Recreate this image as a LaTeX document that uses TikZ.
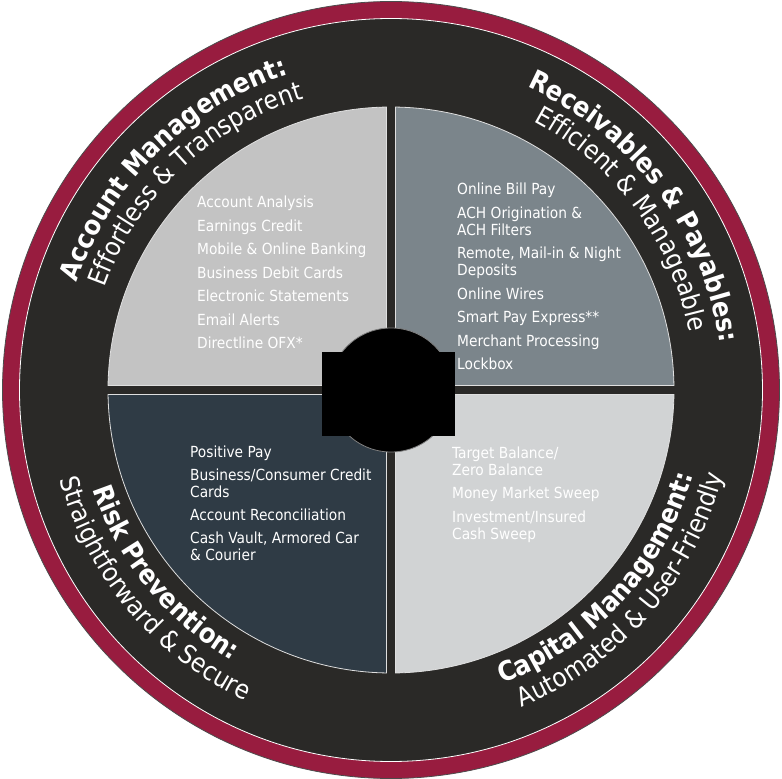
\documentclass[tikz,border=0pt]{standalone}
\usepackage{fontspec}
\setmainfont{DejaVu Sans Condensed}
\usetikzlibrary{decorations.text}

\definecolor{ringred}{HTML}{981C3F}
\definecolor{band}{HTML}{2A2927}
\definecolor{amfill}{HTML}{C3C3C3}
\definecolor{rpfill}{HTML}{7B858B}
\definecolor{rkfill}{HTML}{2F3B45}
\definecolor{cmfill}{HTML}{D1D3D4}

\newcommand{\headfont}{\fontsize{27}{31}\selectfont\bfseries}
\newcommand{\subfont}{\fontsize{26}{30}\selectfont}

\begin{document}
\begin{tikzpicture}[
    x=1pt, y=1pt,
    item/.style={anchor=base west, inner sep=0pt, text=white,
                 font=\fontsize{15.3}{17}\selectfont},
    quarter/.style={draw=white!75!gray, line width=0.8pt},
    arclabel/.style={decorate, decoration={text along path,
                     text align=center, text color=white}}
]

    \useasboundingbox (-391,-389) rectangle (391,390);

    % Outer ring and dark band
    \path[fill=ringred, draw=black!70, line width=0.8pt] (0,0) circle[radius=388.5];
    \path[fill=band, draw=white, line width=0.8pt] (0,0) circle[radius=371.5];

    % Four quadrants, counter-clockwise from top right
    \foreach \a/\col in {0/rpfill, 90/amfill, 180/rkfill, 270/cmfill} {
        \path[quarter, fill=\col, rotate=\a]
            (4.5,4.5) -- (0.91:283) arc[start angle=0.91, end angle=89.09, radius=283] -- cycle;
    }

    % Hub in the middle
    \node[circle, fill=black, draw=gray, line width=0.8pt,
          minimum size=124pt, inner sep=0pt] (hub) at (0,0) {};
    \node[fill=black, minimum width=133pt, minimum height=84pt,
          inner sep=0pt] (hubbox) at (-2.5,-4) {};

    % Headings along the band (top ones clockwise, bottom ones counter-clockwise)
    \path[arclabel, decoration={text={|\headfont|Account Management:}}]
        (180:332) arc[start angle=180, end angle=89, radius=332];
    \path[arclabel, decoration={text={|\subfont|Effortless {\&} Transparent}}]
        (179:304) arc[start angle=179, end angle=88, radius=304];

    \path[arclabel, decoration={text={|\headfont|Receivables {\&} Payables:}}]
        (82:332) arc[start angle=82, end angle=-8, radius=332];
    \path[arclabel, decoration={text={|\subfont|Efficient {\&} Manageable}}]
        (81.5:304) arc[start angle=81.5, end angle=-8.5, radius=304];

    \path[arclabel, decoration={text={|\headfont|Risk Prevention:}}]
        (174:314) arc[start angle=174, end angle=264, radius=314];
    \path[arclabel, decoration={text={|\subfont|Straightforward {\&} Secure}}]
        (175:343) arc[start angle=175, end angle=265, radius=343];

    \path[arclabel, decoration={text={|\headfont|Capital Management:}}]
        (272.5:314) arc[start angle=272.5, end angle=362.5, radius=314];
    \path[arclabel, decoration={text={|\subfont|Automated {\&} User-Friendly}}]
        (274:343) arc[start angle=274, end angle=364, radius=343];

    % Service lists
    \foreach \y/\t [count=\i] in {182/Account Analysis, 158.5/Earnings Credit,
            135/Mobile \& Online Banking, 111.5/Business Debit Cards,
            88/Electronic Statements, 64.5/Email Alerts, 41/Directline OFX*}
        \node[item] (am\i) at (-194,\y) {\t};

    \foreach \y/\t [count=\i] in {195/Online Bill Pay, 171.5/ACH Origination \&,
            154.5/ACH Filters, 131/{Remote, Mail-in \& Night}, 114/Deposits,
            90.5/Online Wires, 67/Smart Pay Express**, 43.5/Merchant Processing,
            20/Lockbox}
        \node[item] (rp\i) at (66,\y) {\t};

    \foreach \y/\t [count=\i] in {-67/Positive Pay, -90/{Business/Consumer Credit},
            -107/Cards, -130/Account Reconciliation, -153/{Cash Vault, Armored Car},
            -170/\& Courier}
        \node[item] (rk\i) at (-201,\y) {\t};

    \foreach \y/\t [count=\i] in {-68/{Target Balance/}, -85/Zero Balance,
            -108.5/Money Market Sweep, -132/{Investment/Insured}, -149/Cash Sweep}
        \node[item] (cm\i) at (61,\y) {\t};

\end{tikzpicture}
\end{document}
